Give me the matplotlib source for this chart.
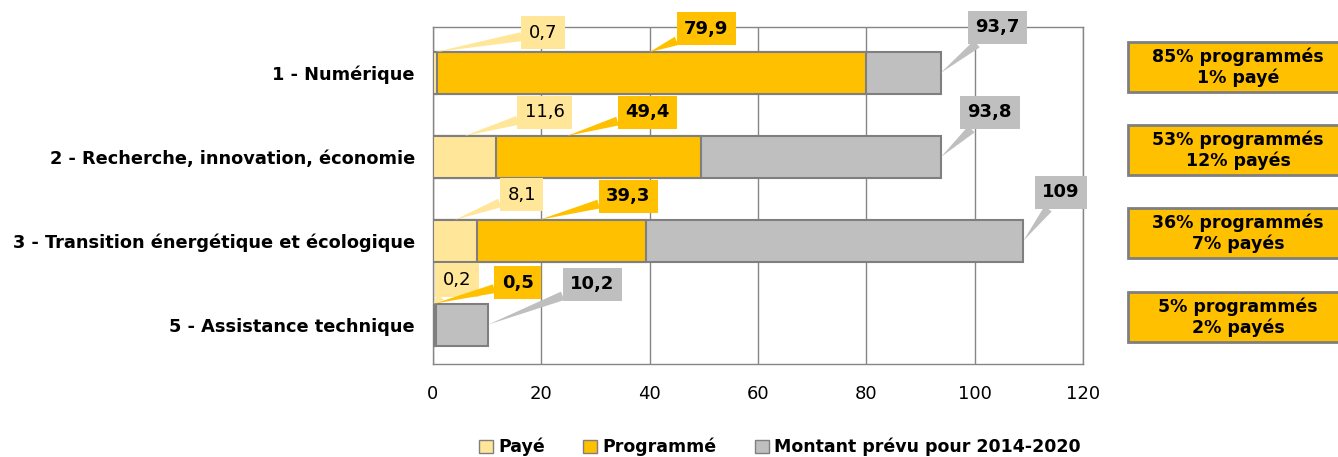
import matplotlib.pyplot as plt
from matplotlib.patches import Patch, Rectangle

# Données (M€)
categories = ['1 - Numérique', '2 - Recherche, innovation, économie',
              '3 - Transition énergétique et écologique', '5 - Assistance technique']
paye = [0.7, 11.6, 8.1, 0.2]
programme = [79.9, 49.4, 39.3, 0.5]
montant = [93.7, 93.8, 109, 10.2]
montant_txt = ['93,7', '93,8', '109', '10,2']
encadres = ['85% programmés\n1% payé', '53% programmés\n12% payés',
            '36% programmés\n7% payés', '5% programmés\n2% payés']
xticks = [0, 20, 40, 60, 80, 100, 120]

c_paye = '#FFE699'
c_prog = '#FFC000'
c_mont = '#BFBFBF'
c_edge = '#7F7F7F'

fig = plt.figure(figsize=(13.38, 4.57), dpi=100)
ax = fig.add_axes([0.3236, 0.2035, 0.4858, 0.7374])

y = list(range(len(categories)))
h = 0.5
ax.barh(y, montant, height=h, color=c_mont, edgecolor=c_edge, linewidth=1.5, zorder=2)
ax.barh(y, programme, height=h, color=c_prog, edgecolor=c_edge, linewidth=1.5, zorder=3)
ax.barh(y, paye, height=h, color=c_paye, edgecolor=c_edge, linewidth=1.5, zorder=4)

ax.set_xlim(0, 120)
ax.set_ylim(3.47, -0.55)
ax.set_xticks(xticks)
ax.set_xticklabels([str(t) for t in xticks], fontsize=13)
ax.set_yticks(y)
ax.set_yticklabels(categories, fontsize=12.8, fontweight='bold')
ax.tick_params(axis='x', length=0, pad=15)
ax.tick_params(axis='y', length=0, pad=13)
ax.grid(axis='x', color='#868686', linewidth=1, zorder=0)
for s in ax.spines.values():
    s.set_color('#868686')
    s.set_linewidth(1)

def fr(v):
    return f'{v:.1f}'.replace('.', ',')

# décalages des étiquettes (points)
off_paye = [(78, 14), (58, 17), (48, 18), (17, 17)]
off_prog = [(41, 17), (58, 17), (64, 17), (60, 15)]
off_mont = [(41, 33), (35, 32), (27, 35), (75, 29)]

def callout(xv, yv, txt, off, col, bold):
    ax.annotate(txt, xy=(xv, yv), xytext=off, textcoords='offset points',
                ha='center', va='center', fontsize=13,
                fontweight='bold' if bold else 'normal', zorder=6,
                bbox=dict(boxstyle='square,pad=0.42', fc=col, ec='none'),
                arrowprops=dict(arrowstyle='wedge,tail_width=0.5', fc=col, ec='none',
                                shrinkA=0, shrinkB=0),
                annotation_clip=False)

for i in y:
    callout(paye[i] / 2, i - h / 2, fr(paye[i]), off_paye[i], c_paye, False)
    callout(programme[i] / 2, i - h / 2, fr(programme[i]), off_prog[i], c_prog, True)
    callout(montant[i], i, montant_txt[i], off_mont[i], c_mont, True)

# encadrés de droite
box_y = [67, 150, 233, 317]
for i, t in enumerate(encadres):
    yc = 1 - box_y[i] / 457
    fig.patches.append(Rectangle((1128 / 1338, yc - 25 / 457), 220 / 1338, 50 / 457,
                                 transform=fig.transFigure, fc=c_prog, ec=c_edge, lw=2))
    fig.text(1238 / 1338, yc, t, ha='center', va='center', fontsize=12.5,
             fontweight='bold', linespacing=1.2)

handles = [Patch(fc=c_paye, ec=c_edge), Patch(fc=c_prog, ec=c_edge), Patch(fc=c_mont, ec=c_edge)]
fig.legend(handles, ['Payé', 'Programmé', 'Montant prévu pour 2014-2020'],
           loc='center', bbox_to_anchor=(780 / 1338, 1 - 447 / 457), ncol=3, frameon=False,
           prop={'weight': 'bold', 'size': 12.5}, handlelength=0.8, handleheight=0.8,
           handletextpad=0.3, columnspacing=2.2)

fig.savefig('out.png', dpi=100)
